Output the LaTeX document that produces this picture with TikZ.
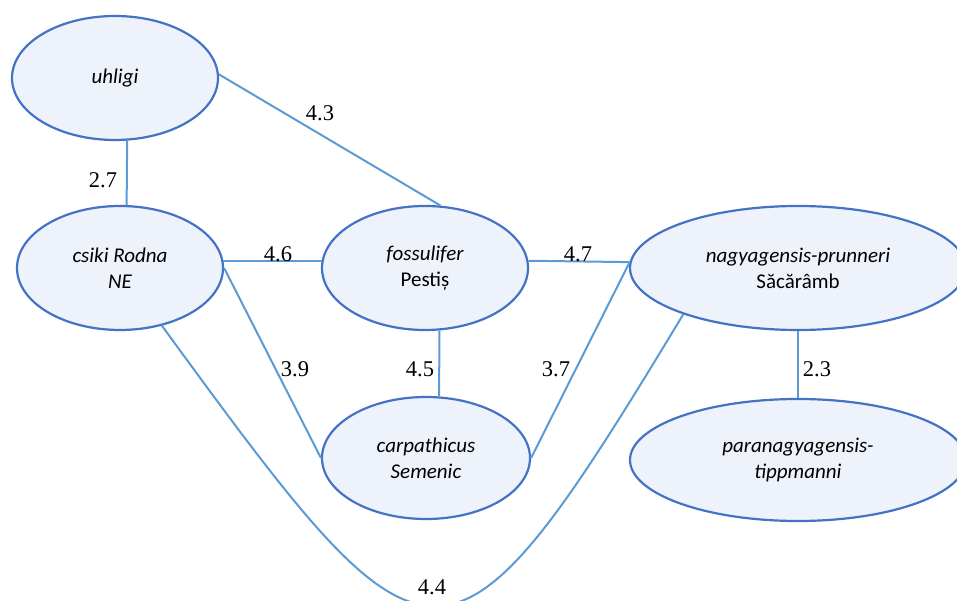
\documentclass[tikz,border=0pt]{standalone}
\usepackage{fontspec}
\setmainfont{Liberation Serif}
\newfontfamily\nodefont{Carlito}
\usetikzlibrary{shapes.geometric}
\definecolor{ebord}{HTML}{4472C4}
\definecolor{efill}{HTML}{EEF3FB}
\definecolor{eline}{HTML}{5B9BD5}
\begin{document}
\begin{tikzpicture}[x=1pt,y=1pt,
  taxon/.style={ellipse, draw=ebord, fill=efill, line width=2.2pt, inner sep=0pt,
    minimum width=206pt, minimum height=124pt, align=center,
    font=\nodefont\fontsize{21}{26}\selectfont},
  widetaxon/.style={taxon, minimum width=336pt},
  link/.style={draw=eline, line width=2pt},
  wt/.style={font=\fontsize{22.5}{26}\selectfont, inner sep=0pt}]
\useasboundingbox (0,0) rectangle (957,601);
\node[taxon] (uhligi) at (115,523) {\itshape uhligi};
\node[taxon] (csiki) at (120,333) {\itshape csiki Rodna\\\itshape NE};
\node[taxon] (foss) at (425,333) {\itshape fossulifer\\Pestiș};
\node[taxon, minimum width=208pt, minimum height=122pt] (carp) at (426,143) {\itshape carpathicus\\\itshape Semenic};
\node[widetaxon] (nagy) at (798,333) {\itshape nagyagensis-prunneri\\Săcărâmb};
\node[widetaxon, minimum height=122pt] (para) at (798,141) {\itshape paranagyagensis-\\\itshape tippmanni};

\draw[link] (uhligi.-79) -- (csiki.84);
\draw[link] (uhligi.2) -- (foss.76);
\draw[link] (csiki.4) -- (foss.176);
\draw[link] (foss.4) -- (nagy.178);
\draw[link] (csiki.east) -- (carp.west);
\draw[link] (foss.-77) -- (carp.78);
\draw[link] (carp.east) -- (nagy.178);
\draw[link] (nagy.south) -- (para.north);
\draw[link] (csiki.-54) .. controls (432,-95) and (446,-106) .. (nagy.202);

\node[wt] (l27) at (103,421) {2.7};
\node[wt] (l43) at (320,488) {4.3};
\node[wt] (l46) at (278,347) {4.6};
\node[wt] (l47) at (578,347) {4.7};
\node[wt] (l39) at (295,232) {3.9};
\node[wt] (l45) at (420,232) {4.5};
\node[wt] (l37) at (556,232) {3.7};
\node[wt] (l23) at (817,232) {2.3};
\node[wt] (l44) at (432,14) {4.4};
\end{tikzpicture}
\end{document}
